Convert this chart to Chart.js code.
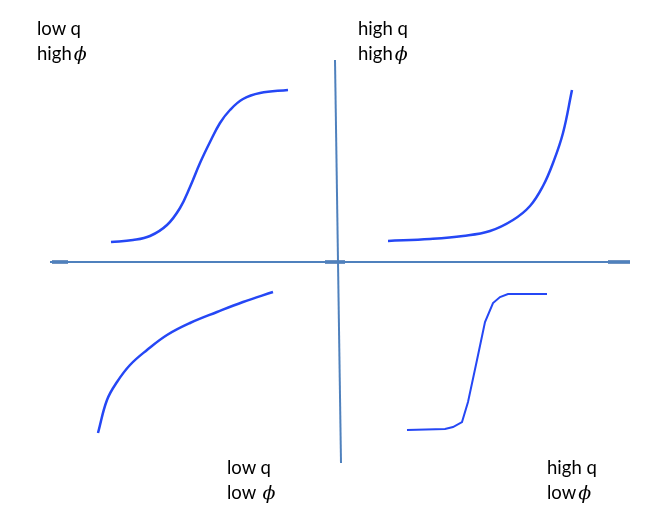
<!DOCTYPE html>
<html>
<head>
<meta charset="utf-8">
<script src="https://cdn.jsdelivr.net/npm/chart.js@4"></script>
<style>
  html,body{margin:0;padding:0;background:#fff;}
  #wrap{position:relative;width:664px;height:524px;}
  .lbl{position:absolute;font-family:Lato,"Open Sans",sans-serif;font-size:18.5px;line-height:25px;color:#000;}
  .lbl i{font-family:"DejaVu Serif",serif;font-size:19px;margin-left:2px;}
</style>
</head>
<body>
<div id="wrap">
  <canvas id="c" width="664" height="524"></canvas>
  <div class="lbl" style="left:37px;top:16px">low q<br>high<i>&#981;</i></div>
  <div class="lbl" style="left:358px;top:16px">high q<br>high<i>&#981;</i></div>
  <div class="lbl" style="left:227px;top:455px">low q<br>low <i>&#981;</i></div>
  <div class="lbl" style="left:547px;top:455px">high q<br>low<i>&#981;</i></div>
</div>
<script>
// quadrant curves, origin at axis crossing, units ~ px
const ulX = [-227,-205,-188,-171,-158,-148,-138,-128,-118,-108,-95,-78,-50];
const ulY = [20,22,26,37,54,75,99,120,139,152,163,169,172];

const urX = [50,92,125,152,175,192,205,215,225,234];
const urY = [21,23,26,31,42,56,76,99,129,172];

const llX = [-240,-231,-221,-208,-191,-171,-148,-121,-95,-65];
const llY = [-171,-138,-120,-103,-88,-73,-61,-50,-40,-30];

const lrX = [69,107,115,124,130,139,147,155,162,170,209];
const lrY = [-168,-167,-165,-160,-140,-98,-60,-41,-35,-32,-32];

// axes
const hAxisX = [-288,292], hAxisY = [0,0];
const vAxisX = [-3,3],    vAxisY = [202,-201];
const tickSegs = [[-286,-270],[270,292],[-13,7]];

const curveColor = '#2547f5';
const axisColor = '#4f81bd';

const pts = (xs,ys)=>xs.map((x,i)=>({x, y:ys[i]}));

const datasets = [
  {data:pts(hAxisX,hAxisY), borderColor:axisColor, borderWidth:2},
  {data:pts(vAxisX,vAxisY), borderColor:axisColor, borderWidth:2},
  ...tickSegs.map(s=>({data:pts(s,[0,0]), borderColor:'#3f6fae', borderWidth:3.5})),
  {data:pts(ulX,ulY), borderColor:curveColor, borderWidth:2.5, tension:0.4},
  {data:pts(urX,urY), borderColor:curveColor, borderWidth:2.5, tension:0.4},
  {data:pts(llX,llY), borderColor:curveColor, borderWidth:2.5, tension:0.4},
  {data:pts(lrX,lrY), borderColor:curveColor, borderWidth:2, tension:0}
].map(d=>({pointRadius:0, fill:false, ...d}));

new Chart(document.getElementById('c'), {
  type:'line',
  data:{datasets},
  options:{
    responsive:false, animation:false,
    layout:{padding:0},
    scales:{
      x:{type:'linear', min:-338, max:326, display:false},
      y:{type:'linear', min:-262, max:262, display:false}
    },
    plugins:{legend:{display:false}, tooltip:{enabled:false}}
  }
});
</script>
</body>
</html>
